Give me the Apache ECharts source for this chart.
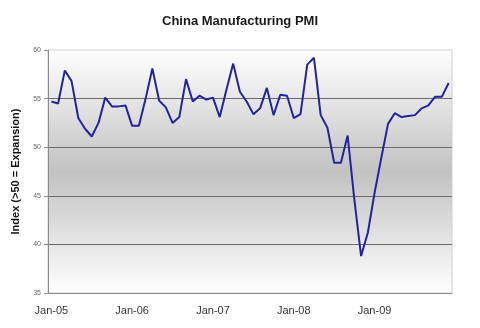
<!DOCTYPE html>
<html>
<head>
<meta charset="utf-8">
<script src="https://cdn.jsdelivr.net/npm/echarts@6/dist/echarts.min.js"></script>
<style>
  html, body { margin: 0; padding: 0; background: #ffffff; }
  #chart { width: 480px; height: 328px; }
</style>
</head>
<body>
<div id="chart"></div>
<script>
// Monthly China manufacturing PMI, Jan 2005 – Dec 2009
var monthNames = ['Jan', 'Feb', 'Mar', 'Apr', 'May', 'Jun', 'Jul', 'Aug', 'Sep', 'Oct', 'Nov', 'Dec'];
var years = ['05', '06', '07', '08', '09'];

var pmi2005 = [54.7, 54.5, 57.9, 56.8, 53.0, 51.9, 51.1, 52.5, 55.1, 54.2, 54.2, 54.3];
var pmi2006 = [52.2, 52.2, 55.0, 58.1, 54.8, 54.1, 52.5, 53.1, 57.0, 54.7, 55.3, 54.9];
var pmi2007 = [55.1, 53.1, 55.9, 58.6, 55.7, 54.7, 53.4, 54.0, 56.1, 53.3, 55.4, 55.3];
var pmi2008 = [53.0, 53.4, 58.5, 59.2, 53.3, 52.0, 48.4, 48.4, 51.2, 44.6, 38.8, 41.2];
var pmi2009 = [45.3, 48.9, 52.4, 53.5, 53.1, 53.2, 53.3, 54.0, 54.3, 55.2, 55.2, 56.6];

var yTicks = { min: 35, max: 60, step: 5 };

var categories = [];
years.forEach(function (y) {
  monthNames.forEach(function (m) { categories.push(m + '-' + y); });
});
var pmi = [].concat(pmi2005, pmi2006, pmi2007, pmi2008, pmi2009);

var chart = echarts.init(document.getElementById('chart'), null, { renderer: 'canvas' });

chart.setOption({
  animation: false,
  backgroundColor: '#ffffff',
  textStyle: { fontFamily: 'Liberation Sans, Arial, sans-serif' },
  title: {
    text: 'China Manufacturing PMI',
    left: 'center',
    top: 10,
    textStyle: { fontSize: 13, fontWeight: 'bold', color: '#1a1a1a', fontFamily: 'Liberation Sans, Arial, sans-serif' }
  },
  grid: {
    left: 48,
    right: 28,
    top: 50,
    bottom: 35,
    show: true,
    borderColor: '#cfcfcf',
    borderWidth: 1,
    backgroundColor: {
      type: 'linear', x: 0, y: 0, x2: 0, y2: 1,
      colorStops: [
        { offset: 0, color: '#ffffff' },
        { offset: 0.5, color: '#c2c2c2' },
        { offset: 1, color: '#ffffff' }
      ]
    }
  },
  xAxis: {
    type: 'category',
    data: categories,
    boundaryGap: true,
    axisLine: { lineStyle: { color: '#8a8a8a', width: 1 } },
    axisTick: { interval: 11, length: 4, lineStyle: { color: '#8a8a8a' } },
    axisLabel: { interval: 11, fontSize: 11, color: '#333333', margin: 12 },
    splitLine: { show: false }
  },
  yAxis: {
    type: 'value',
    min: yTicks.min,
    max: yTicks.max,
    interval: yTicks.step,
    name: 'Index (>50 = Expansion)',
    nameLocation: 'middle',
    nameGap: 27,
    nameTextStyle: { fontSize: 11, fontWeight: 'bold', color: '#111111' },
    axisLine: { show: true, lineStyle: { color: '#8a8a8a', width: 1 } },
    axisTick: { show: true, length: 4, lineStyle: { color: '#8a8a8a' } },
    axisLabel: { fontSize: 7, color: '#666666', margin: 7 },
    splitLine: { show: true, showMinLine: false, showMaxLine: false, lineStyle: { color: '#6a6a6a', width: 1 } }
  },
  series: [{
    type: 'line',
    data: pmi,
    symbol: 'none',
    smooth: false,
    lineStyle: { color: '#23239a', width: 2 }
  }]
});
</script>
</body>
</html>
